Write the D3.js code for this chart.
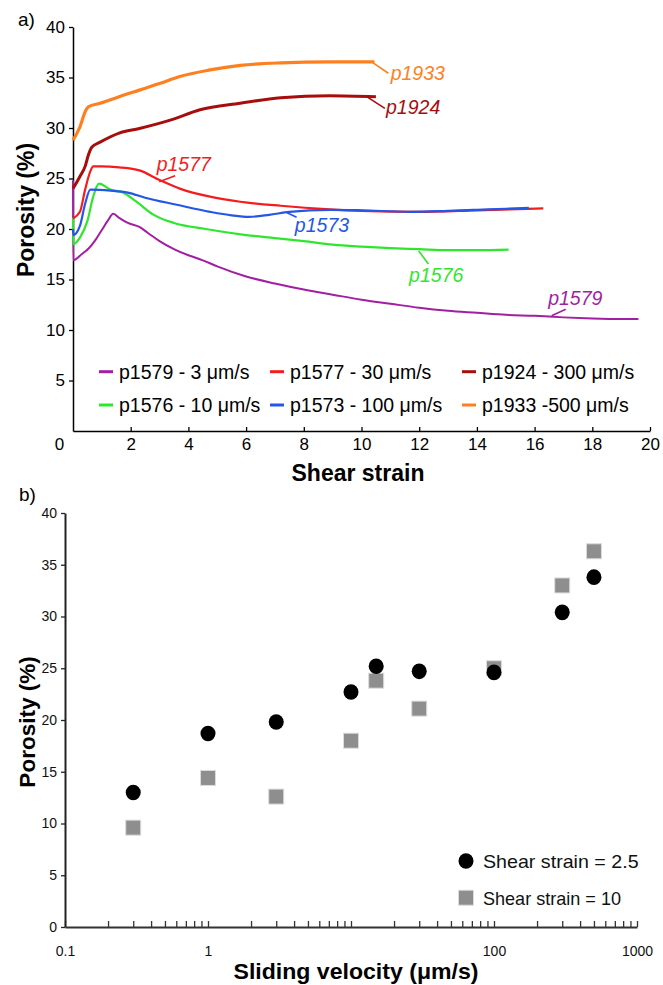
<!DOCTYPE html>
<html><head><meta charset="utf-8">
<script src="https://cdn.jsdelivr.net/npm/d3@7"></script>
<style>body{margin:0;background:#fff}svg{display:block}text{font-family:"Liberation Sans",Arial,sans-serif}</style>
</head><body>
<script>
// ---------- Panel a data (shear strain, porosity %) ----------
const p1579 = [[0,24.8],[0.01,16.9],[0.3,17.5],[0.55,18.1],[0.8,19.0],[1.0,19.9],[1.2,20.8],[1.4,21.5],[1.6,21.1],[1.9,20.6],[2.3,20.2],[2.6,19.6],[3.0,18.8],[3.5,18.0],[4.0,17.4],[4.5,16.9],[5.0,16.3],[6.0,15.3],[7.0,14.6],[8.0,14.0],[9.0,13.5],[10,13.0],[11,12.6],[12,12.2],[13,11.9],[14,11.7],[15,11.5],[16,11.4],[17,11.25],[18,11.15],[19,11.1],[19.6,11.1]];
const p1576 = [[0,21.1],[0.01,18.5],[0.25,19.2],[0.5,20.8],[0.7,23.2],[0.9,24.5],[1.3,23.9],[1.75,23.6],[2.2,22.7],[2.8,21.4],[3.5,20.6],[4.6,20.0],[6.0,19.4],[7,19.1],[8,18.8],[9,18.45],[10,18.25],[11,18.1],[12,18.0],[13,17.9],[14,17.9],[15.1,17.95]];
const p1573 = [[0,20.0],[0.01,19.4],[0.24,20.3],[0.42,22.5],[0.6,23.9],[1.3,23.8],[1.9,23.6],[2.5,23.1],[3.6,22.4],[4.75,21.7],[5.5,21.35],[6.1,21.2],[6.8,21.4],[7.5,21.7],[8.9,21.9],[10,21.85],[11.7,21.7],[13,21.8],[14,21.9],[15,22.0],[15.8,22.1]];
const p1577 = [[0,21.05],[0.24,21.7],[0.42,23.9],[0.6,25.7],[0.7,26.2],[1.0,26.2],[1.6,26.1],[2.3,25.8],[3.0,24.85],[3.7,24.0],[4.75,23.2],[5.8,22.7],[7.2,22.3],[8.9,21.95],[10,21.8],[12,21.7],[14,21.85],[16.3,22.05]];
const p1924 = [[0,24.0],[0.24,25.2],[0.42,26.2],[0.53,27.3],[0.65,28.1],[0.94,28.6],[1.6,29.5],[2.3,29.95],[3.4,30.8],[4.4,31.8],[5.8,32.45],[7.2,33.0],[8.9,33.2],[10.5,33.1]];
const p1933 = [[0,28.8],[0.24,30.1],[0.42,31.6],[0.53,32.1],[0.94,32.45],[1.6,33.1],[2.3,33.75],[3.0,34.4],[3.7,35.1],[4.75,35.75],[5.8,36.2],[7.2,36.45],[8.9,36.55],[10.45,36.55]];
const seriesNames = ["p1579","p1576","p1577","p1573","p1924","p1933"];
const seriesData = [p1579,p1576,p1577,p1573,p1924,p1933];
const legendLabels = ["p1579 - 3 \u03bcm/s","p1577 - 30 \u03bcm/s","p1924 - 300 \u03bcm/s","p1576 - 10 \u03bcm/s","p1573 - 100 \u03bcm/s","p1933 -500 \u03bcm/s"];
const legendOrder = ["p1579","p1577","p1924","p1576","p1573","p1933"];
const strainTicks = [0,2,4,6,8,10,12,14,16,18,20];
const porosityTicksA = [5,10,15,20,25,30,35,40];
// annotation: [name, text x, text y (centre), leader x1,y1,x2,y2] in data units
const annotations = [
  ["p1933",11.01,35.45,10.39,36.47,10.93,35.42],
  ["p1924",10.85,32.08,10.18,33.1,10.81,31.95],
  ["p1577",2.9,26.44,2.99,24.68,3.54,25.28],
  ["p1573",7.69,20.4,7.42,21.61,7.75,21.16],
  ["p1576",11.65,15.45,11.98,17.85,12.32,16.53],
  ["p1579",16.47,13.17,16.59,11.42,17.08,12.05]
];

// ---------- Panel b data ----------
const velocities = [0.3,1,3,10,15,30,100,300,500];
const porosityStrain2_5 = [13.0,18.7,19.8,22.7,25.2,24.7,24.6,30.4,33.8];
const porosityStrain10 = [9.6,14.4,12.6,18.0,23.8,21.1,25.0,33.0,36.3];
const velocityLabels = [0.1,1,100,1000];
const porosityTicksB = [0,5,10,15,20,25,30,35,40];
const legendB = ["Shear strain = 2.5","Shear strain = 10"];

const colors = {p1579:"#a21ea2",p1576:"#2ee62e",p1577:"#f41c1c",p1573:"#2456e8",p1924:"#a80d0d",p1933:"#ff7f1e"};
const widths = {p1579:2,p1576:2.2,p1577:2.2,p1573:2.2,p1924:3,p1933:3.2};

const svg = d3.select("body").append("svg").attr("width",663).attr("height",985);

// ================= Panel a =================
const xA = d3.scaleLinear().domain([0,20]).range([73,650]);
const yA = d3.scaleLinear().domain([0,40]).range([431,27]);

svg.append("text").attr("x",18).attr("y",26).attr("font-size",19).text("a)");

const gxA = svg.append("g").attr("transform","translate(0,431)")
  .call(d3.axisBottom(xA).tickValues(strainTicks).tickSize(-4).tickSizeOuter(0).tickPadding(6.5));
gxA.select(".domain").attr("stroke","#000").attr("stroke-width",1.5);
gxA.selectAll(".tick line").attr("stroke","#000").attr("stroke-width",1.3);
gxA.selectAll(".tick text").attr("font-size",17).attr("fill","#000")
  .attr("dx",d=>d===0?-14:0);
gxA.selectAll(".tick").filter(d=>d===0).select("line").remove();

const gyA = svg.append("g").attr("transform","translate(73,0)")
  .call(d3.axisLeft(yA).tickValues(porosityTicksA).tickSize(4).tickSizeOuter(0).tickPadding(4));
gyA.select(".domain").attr("stroke","#000").attr("stroke-width",1.5);
gyA.selectAll(".tick line").attr("stroke","#000").attr("stroke-width",1.3);
gyA.selectAll(".tick text").attr("font-size",17).attr("fill","#000");

const line = d3.line().curve(d3.curveMonotoneX).x(d=>xA(d[0])).y(d=>yA(d[1]));
seriesNames.forEach((n,i)=>{
  svg.append("path").datum(seriesData[i]).attr("d",line)
    .attr("fill","none").attr("stroke",colors[n]).attr("stroke-width",widths[n])
    .attr("stroke-linejoin","round");
});

annotations.forEach(a=>{
  const c = colors[a[0]];
  svg.append("line").attr("x1",xA(a[3])).attr("y1",yA(a[4])).attr("x2",xA(a[5])).attr("y2",yA(a[6]))
    .attr("stroke",c).attr("stroke-width",1.6);
  svg.append("text").attr("x",xA(a[1])).attr("y",yA(a[2])+7).attr("font-size",19.5)
    .attr("font-style","italic").attr("fill",c).text(a[0]);
});

// legend a
const legCols = [99,270,462], legRows = [371.7,405];
legendOrder.forEach((n,i)=>{
  const col = i%3, row = Math.floor(i/3);
  const lx = legCols[col], ly = legRows[row];
  svg.append("line").attr("x1",lx).attr("x2",lx+14).attr("y1",ly).attr("y2",ly)
    .attr("stroke",colors[n]).attr("stroke-width",3);
  svg.append("text").attr("x",lx+20).attr("y",ly+7).attr("font-size",19.5).attr("fill","#000")
    .text(legendLabels[i]);
});

svg.append("text").attr("x",358).attr("y",481).attr("text-anchor","middle")
  .attr("font-size",23).attr("font-weight","bold").text("Shear strain");
svg.append("text").attr("transform","translate(34,210) rotate(-90)").attr("text-anchor","middle")
  .attr("font-size",23).attr("font-weight","bold").text("Porosity (%)");

// ================= Panel b =================
const xB = d3.scaleLog().domain([0.1,1000]).range([65,637]);
const yB = d3.scaleLinear().domain([0,40]).range([927,513]);

svg.append("text").attr("x",19).attr("y",501).attr("font-size",19).text("b)");

const isLabel = d => velocityLabels.some(v=>Math.abs(v-d)/v<1e-6);
const gxB = svg.append("g").attr("transform","translate(0,927)")
  .call(d3.axisBottom(xB).tickValues(xB.ticks()).tickSize(-6).tickSizeOuter(0).tickPadding(19)
    .tickFormat(d=>isLabel(d)?String(+d.toPrecision(3)):""));
gxB.select(".domain").attr("stroke","#333").attr("stroke-width",2.2);
gxB.selectAll(".tick line").attr("stroke","#333").attr("stroke-width",1.3);
gxB.selectAll(".tick text").attr("font-size",14).attr("fill","#111");

const gyB = svg.append("g").attr("transform","translate(65,0)")
  .call(d3.axisLeft(yB).tickValues(porosityTicksB).tickSize(4).tickSizeOuter(0).tickPadding(4));
gyB.select(".domain").attr("stroke","#222").attr("stroke-width",2);
gyB.selectAll(".tick line").attr("stroke","#222").attr("stroke-width",1.3);
gyB.selectAll(".tick text").attr("font-size",14).attr("fill","#111");

const sq = 15;
svg.selectAll(".sq").data(velocities).enter().append("rect")
  .attr("x",(d)=>xB(d)-sq/2).attr("y",(d,i)=>yB(porosityStrain10[i])-sq/2)
  .attr("width",sq).attr("height",sq).attr("fill","#8e8e8e").attr("stroke","#dcdcdc").attr("stroke-width",1);
svg.selectAll(".ci").data(velocities).enter().append("ellipse")
  .attr("cx",d=>xB(d)).attr("cy",(d,i)=>yB(porosityStrain2_5[i]))
  .attr("rx",7.5).attr("ry",7.8).attr("fill","#000");

// legend b
svg.append("ellipse").attr("cx",466).attr("cy",861).attr("rx",7.5).attr("ry",7.8).attr("fill","#000");
svg.append("rect").attr("x",466-sq/2).attr("y",897.7-sq/2).attr("width",sq).attr("height",sq)
  .attr("fill","#8e8e8e").attr("stroke","#dcdcdc");
svg.append("text").attr("x",483).attr("y",868).attr("font-size",19).attr("fill","#111")
  .attr("textLength",155.6).attr("lengthAdjust","spacingAndGlyphs").text(legendB[0]);
svg.append("text").attr("x",483).attr("y",904.5).attr("font-size",19).attr("fill","#111")
  .attr("textLength",138).attr("lengthAdjust","spacingAndGlyphs").text(legendB[1]);

svg.append("text").attr("x",356).attr("y",979).attr("text-anchor","middle")
  .attr("font-size",22).attr("font-weight","bold").attr("textLength",245).attr("lengthAdjust","spacingAndGlyphs")
  .text("Sliding velocity (\u03bcm/s)");
svg.append("text").attr("transform","translate(35,722) rotate(-90)").attr("text-anchor","middle")
  .attr("font-size",22.5).attr("font-weight","bold").text("Porosity (%)");
</script>
</body></html>
